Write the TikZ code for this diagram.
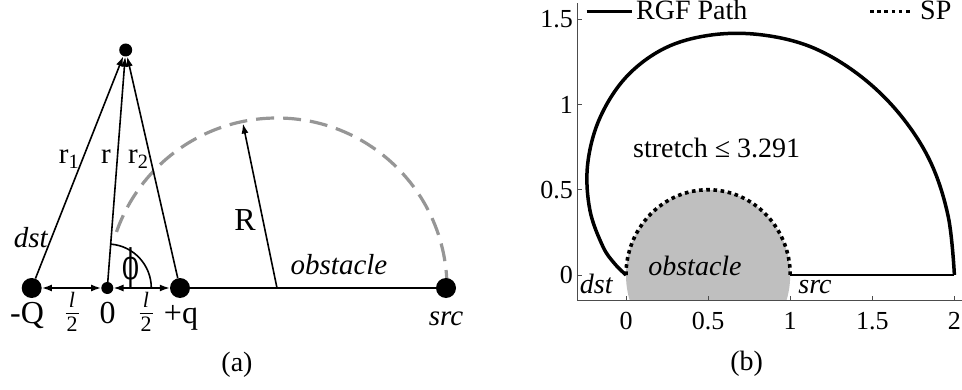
\documentclass[tikz,border=0pt]{standalone}
\usepackage{fontspec}
\usepackage{graphicx}
\setmainfont{Liberation Serif}
\newfontfamily\phifont{DejaVu Serif}
\usetikzlibrary{arrows.meta}
\definecolor{obsgray}{RGB}{191,191,191}
\definecolor{arcgray}{RGB}{150,150,150}
\begin{document}
\begin{tikzpicture}[x=1pt,y=1pt,
  lbl/.style={font=\fontsize{29}{33}\selectfont, inner sep=0pt},
  lblbig/.style={font=\fontsize{32}{36}\selectfont, inner sep=0pt},
  lblb/.style={font=\fontsize{28}{32}\selectfont, inner sep=0pt},
  fracpart/.style={font=\fontsize{22}{24}\selectfont, inner sep=0pt},
  fracbar/.style={line width=0.9pt},
  ticklbl/.style={font=\fontsize{26}{30}\selectfont, inner sep=0pt},
  bigdot/.style={circle,fill=black,minimum size=20pt,inner sep=0pt},
  smalldot/.style={circle,fill=black,minimum size=12pt,inner sep=0pt},
  topdot/.style={circle,fill=black,minimum size=13pt,inner sep=0pt},
  ln/.style={line width=1.6pt},
  arr/.style={line width=1.6pt,-{Latex[length=10pt,width=7pt]}},
  darr/.style={line width=1.6pt,{Latex[length=10pt,width=7pt]}-{Latex[length=10pt,width=7pt]}},
  dasharc/.style={draw=arcgray,line width=3.2pt,dash pattern=on 18pt off 9pt},
  rgf/.style={line width=3.5pt,line join=round},
  rgfh/.style={line width=2.4pt},
  sppath/.style={line width=3.6pt,dash pattern=on 3.6pt off 3.6pt},
  axisln/.style={draw=black!70,line width=0.9pt},
]
\useasboundingbox (0,0) rectangle (962,389);

% ---------------- panel (a) ----------------
\coordinate (C) at (277,101);
\path (C) ++(101.7:168) coordinate (Rtip);
\draw[dasharc] (447,101) arc[start angle=0,end angle=161,radius=170];

\node[bigdot] (mQ) at (31.7,101) {};
\node[smalldot] (O) at (107.3,101) {};
\node[bigdot] (pq) at (180,101) {};
\node[topdot] (T) at (125.7,339) {};
\node[bigdot] (src) at (446,101) {};

\draw[ln] (pq) -- (src);
\draw[arr] (mQ) -- (T);
\draw[arr] (O) -- (T);
\draw[arr] (pq) -- (T);
\draw[darr] (mQ) -- (O);
\draw[darr] (O) -- (pq);
\draw[arr] (C) -- (Rtip);
\draw[ln] (O.center) ++(0:44) arc[start angle=0,end angle=85.6,radius=44];

\node[lbl,anchor=base] (r1) at (69,225.7) {r\textsubscript{1}};
\node[lbl,anchor=base] (rr) at (106,225.7) {r};
\node[lbl,anchor=base] (r2) at (138.3,225.7) {r\textsubscript{2}};
\node[lbl,anchor=base] (dstA) at (31,141.7) {\textit{dst}};
\node[inner sep=0pt,font=\phifont\fontsize{40}{42}\selectfont] (phi) at (130.5,121) {\scalebox{0.62}[1.05]{ϕ}};
\node[lblbig,anchor=base] (Rl) at (245,159) {R};
\node[lbl,anchor=base] (obsA) at (339,115) {\textit{obstacle}};
\node[lbl,anchor=base] (srcA) at (446,64) {\textit{src}};
\node[lblbig,anchor=base] (mQl) at (27,65.5) {-Q};
\node[lblbig,anchor=base] (zl) at (107.5,65.5) {0};
\node[lblbig,anchor=base] (pql) at (181,65.5) {+q};
% fractions l/2
\node[fracpart] (fn1) at (72,89) {\textit{l}};
\node[fracpart] (fd1) at (72,64.5) {2};
\coordinate (fb1a) at (65.5,75.7);
\coordinate (fb1b) at (78.5,75.7);
\draw[fracbar] (fb1a) -- (fb1b);
\node[fracpart] (fn2) at (146,89) {\textit{l}};
\node[fracpart] (fd2) at (146,64.5) {2};
\coordinate (fb2a) at (139.5,75.7);
\coordinate (fb2b) at (152.5,75.7);
\draw[fracbar] (fb2a) -- (fb2b);
\node[lblb] (capa) at (237,24) {(a)};

% ---------------- panel (b) ----------------
\begin{scope}[shift={(626pt,114pt)},x=164.2pt,y=170.5pt]
  \coordinate (d0) at (0,0);
  \coordinate (s0) at (1,0);
  \coordinate (e0) at (2,0);
  \begin{scope}
    \clip (-0.297,-0.152) rectangle (2.1,1.6);
    \fill[obsgray] (0.5,0) ellipse [x radius=0.5,y radius=0.5];
  \end{scope}
  \draw[axisln] (-0.297,1.595) -- (-0.297,-0.152) -- (2.046,-0.152);
  \foreach \xv [count=\i] in {0,0.5,1,1.5,2} {
    \draw[axisln] (\xv,-0.152) -- ++(0,5pt);
    \node[ticklbl] (xt\i) at (\xv,-0.27) {\xv};
  }
  \foreach \yv [count=\i] in {0,0.5,1,1.5} {
    \draw[axisln] (-0.297,\yv) -- ++(5pt,0);
    \node[ticklbl,anchor=east] (yt\i) at (-0.323,\yv) {\yv};
  }
  \draw[sppath] (d0) arc[start angle=180,end angle=0,x radius=0.5,y radius=0.5];
  \draw[rgf] plot[smooth,tension=0.6] coordinates {
    (0:2.0) (10:1.992) (20:1.968) (30:1.912) (40:1.838) (50:1.748)
    (60:1.628) (70:1.497) (80:1.35) (90:1.16) (100:0.93) (110:0.685)
    (120:0.44) (130:0.22) (136:0.1) (0,0)};
  \draw[rgfh] (s0) -- (e0);
\end{scope}

\coordinate (lgA) at (586.7,377.3);
\coordinate (lgB) at (631.7,377.3);
\draw[rgf] (lgA) -- (lgB);
\node[lblb,anchor=base west] (lgt1) at (636,369) {RGF Path};
\coordinate (lgC) at (870,377.3);
\coordinate (lgD) at (911.7,377.3);
\draw[sppath] (lgC) -- (lgD);
\node[lblb,anchor=base west] (lgt2) at (920,369) {SP};

\node[lblb,anchor=base west] (str) at (633,231.7) {stretch ≤ 3.291};
\node[lblb,anchor=base] (obsB) at (695,114) {\textit{obstacle}};
\node[lblb,anchor=base] (dstB) at (596.5,96) {\textit{dst}};
\node[lblb,anchor=base] (srcB) at (815,96) {\textit{src}};
\node[lblb] (capb) at (746.7,25) {(b)};
\end{tikzpicture}
\end{document}
